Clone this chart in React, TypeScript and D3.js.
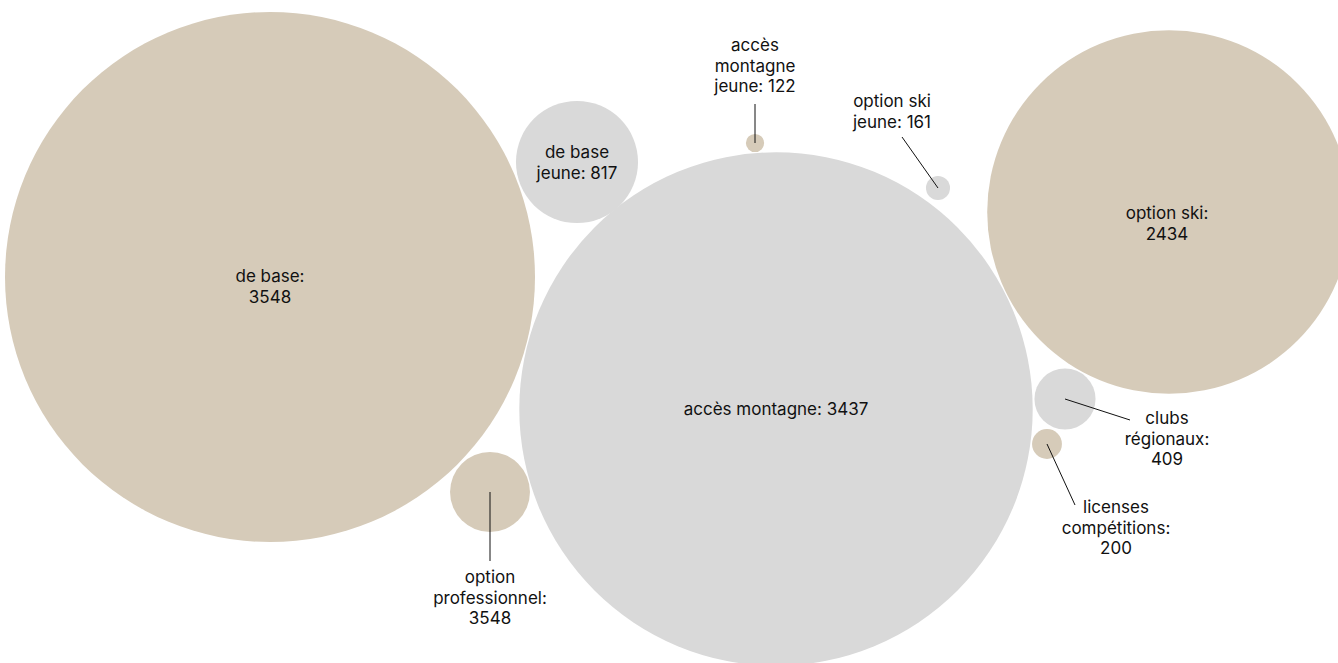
import * as d3 from 'd3'

// bubble data
const names = [
  'de base',
  'accès montagne',
  'option ski',
  'de base jeune',
  'option professionnel',
  'accès montagne jeune',
  'option ski jeune',
  'clubs régionaux',
  'licenses compétitions',
]
// value shown in the label
const shownValues = [3548, 3437, 2434, 817, 3548, 122, 161, 409, 200]
// value the radius is drawn from (the professionnel bubble is drawn much smaller than its label)
const sizeValues = [3548, 3437, 2434, 817, 535, 122, 161, 409, 200]
const groups = ['adulte', 'jeune', 'adulte', 'jeune', 'adulte', 'adulte', 'jeune', 'jeune', 'adulte']
// label lines
const labelLines = [
  ['de base:', '3548'],
  ['accès montagne: 3437'],
  ['option ski:', '2434'],
  ['de base', 'jeune: 817'],
  ['option', 'professionnel:', '3548'],
  ['accès', 'montagne', 'jeune: 122'],
  ['option ski', 'jeune: 161'],
  ['clubs', 'régionaux:', '409'],
  ['licenses', 'compétitions:', '200'],
]

// packed layout: bubble centre, first label baseline, end of the leader line
type Place = { cx: number; cy: number; label: [number, number]; leader?: [number, number] }
const layout: Place[] = [
  { cx: 270, cy: 277, label: [270, 282] },
  { cx: 776, cy: 409, label: [776, 415] },
  { cx: 1169, cy: 212, label: [1167, 219] },
  { cx: 577, cy: 162, label: [577, 158] },
  { cx: 490, cy: 492, label: [490, 583], leader: [490, 561] },
  { cx: 755, cy: 143, label: [755, 51], leader: [755, 104] },
  { cx: 938, cy: 188, label: [892, 107], leader: [902, 137] },
  { cx: 1065, cy: 399, label: [1167, 424], leader: [1130, 420] },
  { cx: 1047, cy: 444, label: [1116, 513], leader: [1075, 505] },
]

const W = 1338
const H = 663
const LINE = 20.5

const color = d3.scaleOrdinal<string, string>().domain(['adulte', 'jeune']).range(['#d6cbb9', '#d9d9d9'])
const r = d3.scaleLinear().domain([0, 3548]).range([0, 265])

export default function App() {
  const nodes = names.map((name, i) => ({
    name,
    value: shownValues[i],
    size: sizeValues[i],
    group: groups[i],
    lines: labelLines[i],
    ...layout[i],
  }))

  return (
    <svg
      width={W}
      height={H}
      style={{ position: 'absolute', left: 0, top: 0, display: 'block' }}
      fontFamily="Inter, 'Noto Sans', sans-serif"
      fontSize={17}
    >
      {nodes.map((d) => (
        <circle key={d.name} cx={d.cx} cy={d.cy} r={r(d.size)} fill={color(d.group)} />
      ))}
      {nodes
        .filter((d) => d.leader)
        .map((d) => (
          <line
            key={d.name + '-leader'}
            x1={d.cx}
            y1={d.cy}
            x2={d.leader![0]}
            y2={d.leader![1]}
            stroke="#111"
            strokeWidth={1}
          />
        ))}
      {nodes.map((d) => {
        const [tx, ty] = d.label
        return (
          <text key={d.name + '-label'} x={tx} y={ty} textAnchor="middle" fill="#111">
            {d.lines.map((l, j) => (
              <tspan key={j} x={tx} y={ty + j * LINE}>
                {l}
              </tspan>
            ))}
          </text>
        )
      })}
    </svg>
  )
}
